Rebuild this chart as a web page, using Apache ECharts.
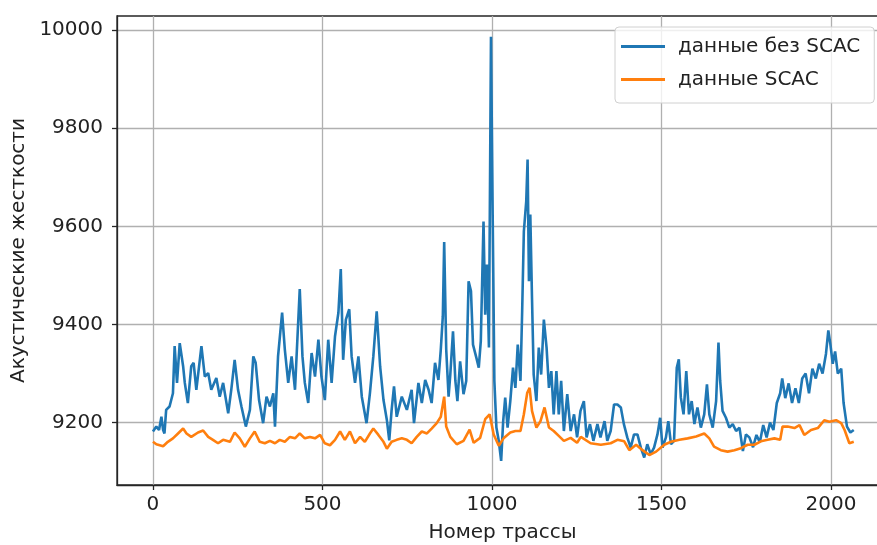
<!DOCTYPE html>
<html>
<head>
<meta charset="utf-8">
<script src="https://cdn.jsdelivr.net/npm/echarts@6/dist/echarts.min.js"></script>
<style>
html,body{margin:0;padding:0;background:#fff;}
#chart{width:877px;height:545px;}
</style>
</head>
<body>
<div id="chart"></div>
<script>
// Series names
const seriesNames = ['данные без SCAC', 'данные SCAC'];
// Axis labels
const xAxisTitle = 'Номер трассы';
const yAxisTitle = 'Акустические жесткости';
const xTicks = [0, 500, 1000, 1500, 2000];
const yTicks = [9200, 9400, 9600, 9800, 10000];

// Trace number (x) for the series without SCAC
const rawX = [0,10,18,25,30,34,39,49,59,64,71,79,89,94,103,113,120,128,143,153,163,172,187,197,207,222,231,241,251,261,274,286,296,303,313,325,335,345,355,360,369,381,389,399,409,419,433,441,448,458,468,478,488,497,507,517,527,537,547,554,561,569,579,586,596,606,616,630,640,650,660,670,680,690,697,704,711,719,734,749,763,770,783,793,803,813,822,832,842,849,855,859,865,872,877,885,892,898,906,916,924,931,938,944,954,961,967,975,980,985,991,997,1002,1007,1013,1020,1027,1033,1039,1046,1054,1062,1069,1076,1084,1089,1094,1101,1105,1109,1113,1118,1123,1131,1138,1145,1153,1161,1168,1175,1182,1190,1197,1204,1212,1222,1232,1242,1251,1261,1271,1279,1289,1299,1311,1320,1332,1340,1350,1360,1370,1380,1389,1399,1409,1419,1429,1439,1449,1458,1468,1478,1488,1496,1503,1513,1520,1528,1537,1545,1551,1557,1565,1573,1581,1589,1597,1606,1616,1626,1634,1641,1651,1661,1668,1673,1680,1690,1700,1710,1720,1730,1740,1749,1759,1770,1780,1790,1800,1810,1820,1830,1840,1850,1856,1865,1875,1885,1895,1905,1915,1925,1935,1945,1955,1965,1975,1985,1992,1998,2005,2012,2020,2030,2037,2047,2057,2067];
// Acoustic impedance without SCAC
const rawY = [9182,9192,9185,9212,9185,9178,9226,9233,9260,9356,9281,9362,9315,9281,9240,9315,9322,9267,9356,9294,9301,9267,9291,9253,9281,9219,9267,9328,9267,9233,9192,9226,9335,9322,9246,9199,9253,9233,9260,9192,9335,9424,9349,9281,9335,9267,9472,9335,9281,9240,9342,9294,9369,9294,9246,9369,9281,9376,9424,9513,9328,9410,9431,9335,9281,9335,9253,9199,9260,9335,9427,9315,9246,9205,9164,9226,9274,9212,9253,9226,9267,9199,9281,9240,9287,9267,9240,9322,9287,9349,9417,9568,9349,9253,9298,9386,9285,9244,9325,9258,9285,9488,9468,9359,9332,9312,9366,9610,9420,9522,9353,9986,9624,9285,9190,9163,9122,9203,9251,9190,9244,9312,9271,9359,9285,9427,9590,9651,9736,9488,9624,9454,9298,9244,9353,9298,9410,9353,9271,9305,9217,9305,9217,9285,9183,9258,9183,9217,9170,9224,9244,9170,9197,9163,9197,9170,9203,9163,9183,9237,9237,9231,9197,9170,9149,9176,9176,9149,9129,9156,9136,9149,9176,9210,9149,9170,9203,9156,9163,9312,9329,9251,9217,9305,9217,9244,9197,9231,9190,9217,9278,9217,9190,9244,9363,9285,9224,9210,9190,9197,9183,9190,9142,9176,9170,9150,9175,9160,9195,9170,9200,9185,9240,9260,9290,9250,9280,9240,9270,9240,9290,9300,9260,9310,9290,9320,9300,9340,9388,9360,9320,9345,9300,9310,9240,9192,9180,9185];

// Trace number (x) for the SCAC series
const scacX = [0,10,30,44,59,74,89,99,113,133,148,163,177,192,207,227,241,256,271,286,300,315,330,345,360,374,389,404,419,433,448,463,478,493,507,522,537,552,566,581,596,611,625,640,650,665,680,690,704,719,734,749,763,778,793,808,822,837,849,859,865,877,896,916,934,946,965,980,993,1005,1020,1035,1054,1069,1084,1094,1104,1111,1118,1131,1143,1155,1168,1182,1197,1212,1232,1251,1262,1291,1321,1350,1370,1390,1405,1425,1444,1464,1484,1508,1528,1553,1577,1602,1626,1641,1655,1675,1695,1715,1734,1754,1774,1793,1813,1833,1850,1857,1872,1892,1907,1921,1941,1961,1980,1995,2015,2030,2040,2054,2067];
// Acoustic impedance with SCAC
const scacY = [9161,9156,9152,9161,9168,9178,9188,9178,9171,9180,9184,9171,9165,9158,9165,9161,9180,9168,9151,9168,9182,9161,9158,9163,9158,9165,9161,9171,9168,9178,9168,9171,9168,9175,9158,9154,9165,9182,9165,9182,9158,9171,9161,9178,9188,9175,9161,9147,9161,9165,9168,9165,9158,9171,9182,9178,9188,9199,9212,9253,9192,9171,9156,9163,9186,9159,9169,9207,9217,9176,9153,9169,9180,9183,9183,9217,9261,9271,9224,9190,9203,9231,9190,9183,9173,9163,9169,9159,9171,9158,9155,9158,9165,9162,9144,9155,9144,9134,9141,9155,9161,9165,9168,9172,9178,9168,9151,9144,9141,9144,9148,9155,9155,9162,9165,9168,9165,9192,9192,9189,9195,9175,9185,9189,9205,9202,9205,9199,9185,9158,9161];

const font = 'DejaVu Sans';
const txt = '#222';
const fs = 20;
const chart = echarts.init(document.getElementById('chart'), null, {renderer: 'canvas'});
chart.setOption({
  animation: false,
  backgroundColor: '#fff',
  textStyle: {fontFamily: font},
  grid: {left: 117, top: 16, width: 771, height: 469, outerBoundsMode: 'none', containLabel: false,
         show: true, borderColor: '#262626', borderWidth: 1.3, backgroundColor: 'transparent'},
  legend: {
    data: seriesNames,
    orient: 'vertical',
    left: 615, top: 27,
    padding: [7, 14, 11, 6],
    itemGap: 8,
    itemWidth: 44, itemHeight: 3,
    icon: 'rect',
    backgroundColor: 'rgba(255,255,255,0.8)',
    borderColor: '#d0d0d0', borderWidth: 1, borderRadius: 4,
    textStyle: {fontFamily: font, fontSize: fs, color: txt, lineHeight: 25, padding: [0, 0, 0, 8]}
  },
  xAxis: {
    type: 'value', min: -106, max: 2168, splitNumber: 5,
    name: xAxisTitle, nameLocation: 'middle', nameGap: 38,
    nameTextStyle: {fontFamily: font, fontSize: fs, color: txt},
    axisLine: {show: true, onZero: false, lineStyle: {color: '#262626', width: 1.3}},
    axisTick: {show: true, length: 5, customValues: xTicks, lineStyle: {color: '#262626', width: 1.3}},
    axisLabel: {fontFamily: font, fontSize: fs, color: txt, margin: 10, customValues: xTicks, formatter: v => String(v)},
    splitLine: {show: true, lineStyle: {color: '#b0b0b0', width: 1.3}}
  },
  yAxis: {
    type: 'value', min: 9073, max: 10028.5, splitNumber: 5,
    name: yAxisTitle, nameLocation: 'middle', nameGap: 86, nameRotate: 90,
    nameTextStyle: {fontFamily: font, fontSize: fs, color: txt},
    axisLine: {show: true, onZero: false, lineStyle: {color: '#262626', width: 1.3}},
    axisTick: {show: true, length: 5, customValues: yTicks, lineStyle: {color: '#262626', width: 1.3}},
    axisLabel: {fontFamily: font, fontSize: fs, color: txt, margin: 14, customValues: yTicks, formatter: v => String(v)},
    splitLine: {show: true, lineStyle: {color: '#b0b0b0', width: 1.3}}
  },
  series: [
    {name: seriesNames[0], type: 'line', showSymbol: false, symbol: 'none', color: '#1f77b4',
     lineStyle: {width: 2.6, color: '#1f77b4'}, data: rawX.map((x, i) => [x, rawY[i]])},
    {name: seriesNames[1], type: 'line', showSymbol: false, symbol: 'none', color: '#ff7f0e',
     lineStyle: {width: 2.6, color: '#ff7f0e'}, data: scacX.map((x, i) => [x, scacY[i]])}
  ]
});
</script>
</body>
</html>
